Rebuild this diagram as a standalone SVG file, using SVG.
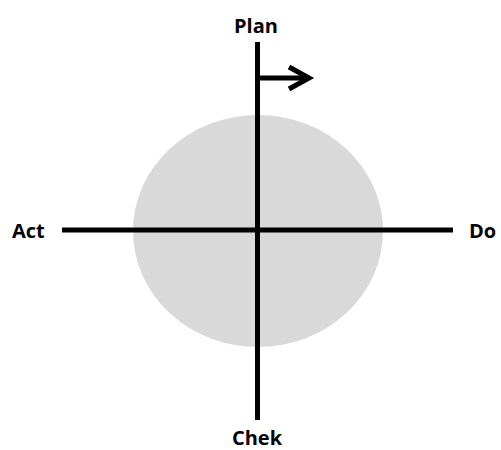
<svg xmlns="http://www.w3.org/2000/svg" width="501" height="450" viewBox="0 0 501 450">
<style>
.lbl{font-family:"Open Sans","Liberation Sans",sans-serif;font-weight:bold;font-size:20px;fill:#000}
.ln{stroke:#000;stroke-width:5;fill:none}
</style>
<rect width="501" height="450" fill="#fff"/>
<ellipse id="circle" cx="258" cy="231" rx="125" ry="116" fill="#d9d9d9"/>
<g id="connectors">
<line class="ln" x1="257.5" y1="42" x2="257.5" y2="420"/>
<line class="ln" x1="62" y1="230" x2="453" y2="230"/>
<line class="ln" x1="258" y1="78" x2="308" y2="78"/>
<polyline class="ln" points="289,67 309,78 289,89"/>
</g>
<g id="plan"><text class="lbl" x="256" y="33" text-anchor="middle">Plan</text></g>
<g id="act"><text class="lbl" x="12" y="238">Act</text></g>
<g id="do"><text class="lbl" x="469" y="238">Do</text></g>
<g id="chek"><text class="lbl" x="257" y="445" text-anchor="middle">Chek</text></g>
</svg>
